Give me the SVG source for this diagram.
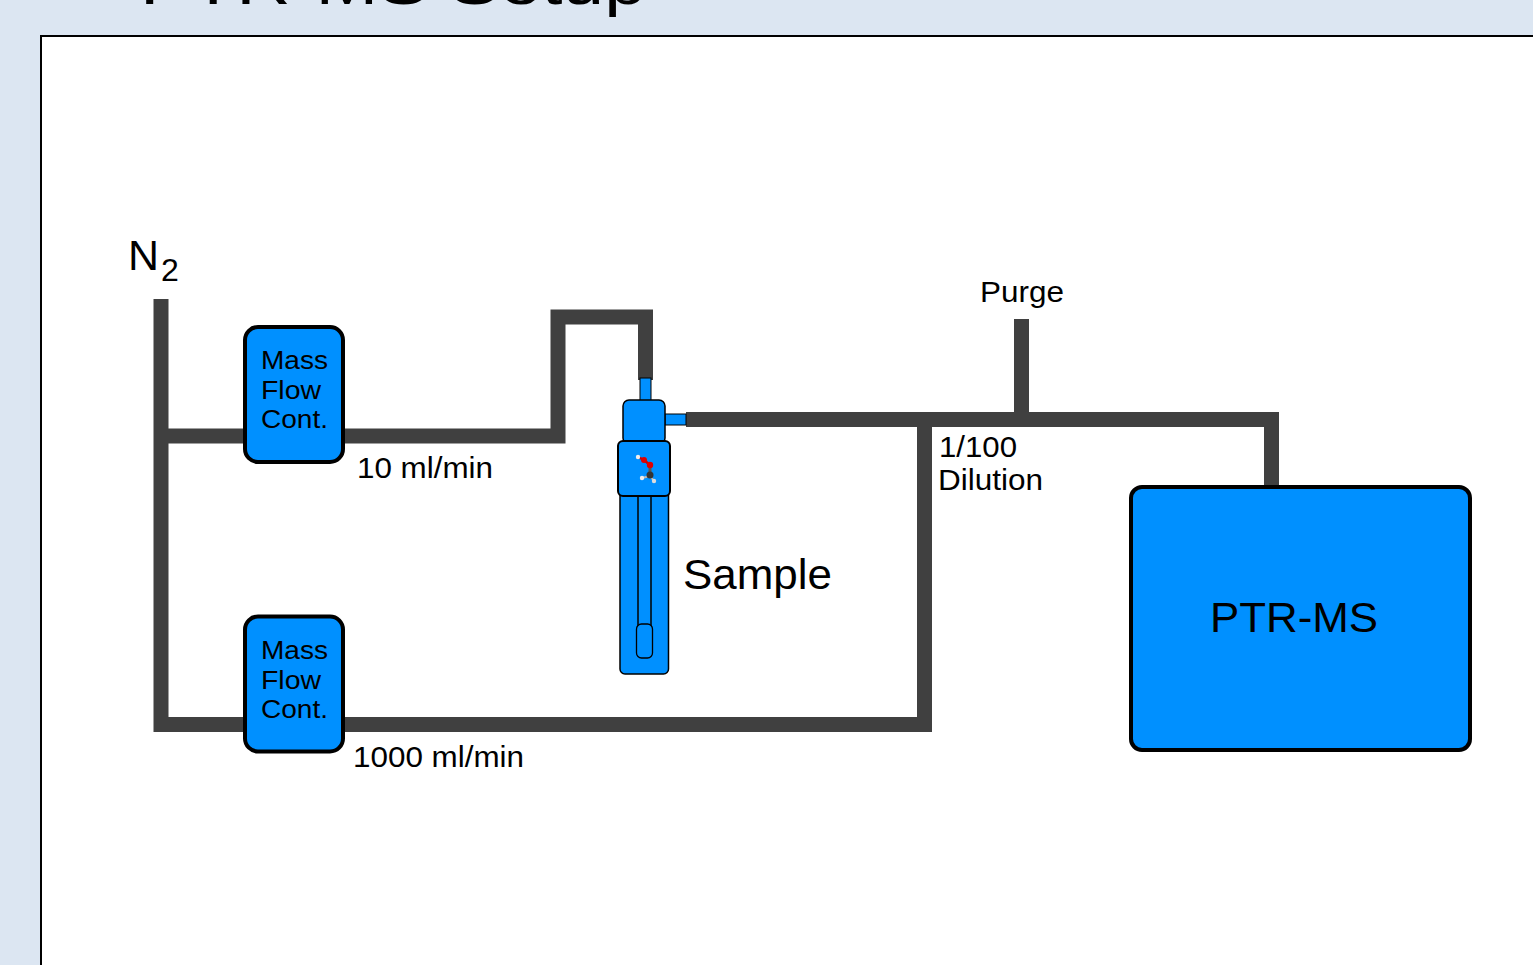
<svg xmlns="http://www.w3.org/2000/svg" width="1533" height="965" viewBox="0 0 1533 965">
<style>
text{font-family:"Liberation Sans",Arial,sans-serif;fill:#000}
.p{fill:none;stroke:#404040;stroke-width:15;stroke-linejoin:miter}
.n{fill:#0090ff;stroke:#000;stroke-linejoin:round}
.m{font-size:26px}
.l{font-size:30px}
</style>
<rect width="1533" height="965" fill="#dce6f2"/>
<rect x="41" y="36" width="1500" height="940" fill="#fff" stroke="#000" stroke-width="2"/>
<text id="title" x="140" y="4" font-size="62" textLength="506" lengthAdjust="spacingAndGlyphs">PTR-MS Setup</text>
<g id="connectors">
<path class="p" d="M161 299V724.500H250"/>
<path class="p" d="M161 436H250"/>
<path class="p" d="M340 436H558V317H645.500V380"/>
<path class="p" d="M340 724.500H924.500V419"/>
<path class="p" d="M686 419.500H1271.500V490"/>
<path class="p" d="M1021.500 319V419"/>
<rect x="640" y="378" width="11" height="24" fill="#0090ff" stroke="#000" stroke-width="1"/>
<rect x="665" y="414" width="21" height="11" fill="#0090ff" stroke="#000" stroke-width="1"/>
</g>
<g id="mfc1"><rect class="n" x="245" y="327" width="98" height="135" rx="13" stroke-width="4"/>
<text class="m" x="261" y="369" textLength="67" lengthAdjust="spacingAndGlyphs">Mass</text><text class="m" x="261" y="399" textLength="60" lengthAdjust="spacingAndGlyphs">Flow</text><text class="m" x="261" y="428" textLength="67" lengthAdjust="spacingAndGlyphs">Cont.</text></g>
<g id="mfc2"><rect class="n" x="245" y="616.500" width="98" height="135" rx="13" stroke-width="4"/>
<text class="m" x="261" y="659" textLength="67" lengthAdjust="spacingAndGlyphs">Mass</text><text class="m" x="261" y="689" textLength="60" lengthAdjust="spacingAndGlyphs">Flow</text><text class="m" x="261" y="718" textLength="67" lengthAdjust="spacingAndGlyphs">Cont.</text></g>
<g id="sample">
<rect class="n" x="620" y="490" width="48.500" height="184" rx="5" stroke-width="1.500"/>
<rect class="n" x="623" y="400" width="42" height="44" rx="6" stroke-width="1.500"/>
<path d="M638 496V626M651 496V626" fill="none" stroke="#000" stroke-width="1.500"/>
<rect class="n" x="636.500" y="624" width="16" height="34" rx="5" stroke-width="1.300"/>
<rect class="n" x="618" y="441" width="52" height="55" rx="5" stroke="#222" stroke-width="2"/>
<path d="M650 465L650 476" fill="none" stroke="#555" stroke-width="3"/>
<path d="M638 457L644 460L650 465" fill="none" stroke="#c00" stroke-width="2.500"/>
<path d="M650 476L642 478M650 476L654 481" stroke="#bbb" stroke-width="2"/>
<circle cx="638" cy="457" r="2.200" fill="#eee"/><circle cx="644" cy="460" r="3" fill="#e00000"/><circle cx="650" cy="465" r="3.200" fill="#e00000"/><circle cx="650" cy="475" r="3.500" fill="#333"/>
<circle cx="642" cy="478" r="2.200" fill="#eee"/><circle cx="654" cy="481" r="2.200" fill="#ddd"/>
</g>
<g id="ptrms"><rect class="n" x="1131" y="487" width="339" height="263" rx="11" stroke-width="4"/>
<text x="1210" y="632" font-size="42" textLength="168" lengthAdjust="spacingAndGlyphs">PTR-MS</text></g>
<text x="128" y="270" font-size="42" textLength="31" lengthAdjust="spacingAndGlyphs">N</text><text x="161" y="280.500" font-size="32">2</text>
<text class="l" x="357" y="478" textLength="136" lengthAdjust="spacingAndGlyphs">10 ml/min</text>
<text class="l" x="353" y="767" textLength="171" lengthAdjust="spacingAndGlyphs">1000 ml/min</text>
<text class="l" x="980" y="302" textLength="84" lengthAdjust="spacingAndGlyphs">Purge</text>
<text class="l" x="939" y="457" textLength="78" lengthAdjust="spacingAndGlyphs">1/100</text>
<text class="l" x="938" y="490" textLength="105" lengthAdjust="spacingAndGlyphs">Dilution</text>
<text x="683" y="589" font-size="42" textLength="149" lengthAdjust="spacingAndGlyphs">Sample</text>
</svg>
